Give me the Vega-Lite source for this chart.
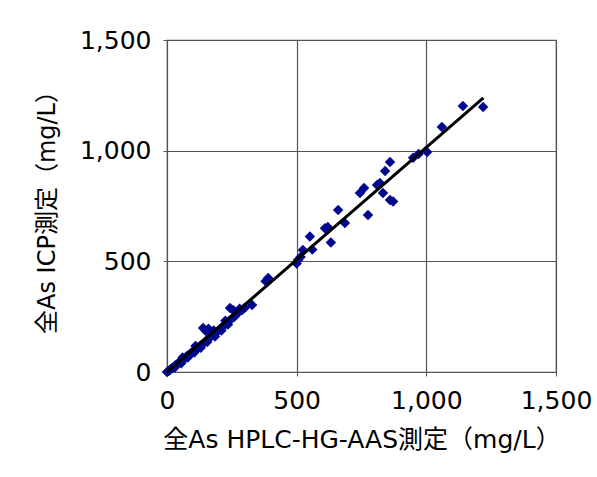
{
  "$schema": "https://vega.github.io/schema/vega-lite/v6.json",
  "width": 389,
  "height": 332,
  "autosize": "none",
  "padding": {"left": 167, "top": 40, "right": 41, "bottom": 105},
  "background": "white",
  "config": {
    "view": {"stroke": "#555555", "strokeWidth": 1.2},
    "font": "DejaVu Sans, Noto Sans CJK JP",
    "axis": {
      "gridColor": "#555555",
      "gridOpacity": 1,
      "gridWidth": 1.2,
      "domain": false,
      "tickColor": "#555555",
      "tickSize": 4,
      "labelFlush": false,
      "labelOverlap": false,
      "labelFont": "DejaVu Sans",
      "labelFontSize": 25,
      "labelColor": "#000000",
      "titleFont": "DejaVu Sans, Noto Sans CJK JP",
      "titleFontWeight": "normal",
      "titleColor": "#000000"
    }
  },
  "datasets": {
    "pts": [
      {"hplc": 0, "icp": 0}, {"hplc": 5, "icp": 4}, {"hplc": 10, "icp": 8}, {"hplc": 15, "icp": 14},
      {"hplc": 20, "icp": 18}, {"hplc": 25, "icp": 22}, {"hplc": 30, "icp": 27}, {"hplc": 35, "icp": 33},
      {"hplc": 40, "icp": 36}, {"hplc": 45, "icp": 42}, {"hplc": 50, "icp": 46}, {"hplc": 55, "icp": 50},
      {"hplc": 60, "icp": 55}, {"hplc": 65, "icp": 60}, {"hplc": 70, "icp": 63}, {"hplc": 75, "icp": 70},
      {"hplc": 80, "icp": 74}, {"hplc": 85, "icp": 78}, {"hplc": 90, "icp": 82}, {"hplc": 95, "icp": 88},
      {"hplc": 100, "icp": 92}, {"hplc": 105, "icp": 97}, {"hplc": 110, "icp": 100}, {"hplc": 115, "icp": 106},
      {"hplc": 120, "icp": 112}, {"hplc": 125, "icp": 115}, {"hplc": 130, "icp": 120}, {"hplc": 140, "icp": 130},
      {"hplc": 150, "icp": 140}, {"hplc": 160, "icp": 150}, {"hplc": 170, "icp": 160}, {"hplc": 180, "icp": 168},
      {"hplc": 190, "icp": 180}, {"hplc": 200, "icp": 190}, {"hplc": 210, "icp": 200}, {"hplc": 220, "icp": 210},
      {"hplc": 230, "icp": 222}, {"hplc": 240, "icp": 232}, {"hplc": 250, "icp": 242}, {"hplc": 260, "icp": 250},
      {"hplc": 270, "icp": 262}, {"hplc": 290, "icp": 280}, {"hplc": 300, "icp": 290},
      {"hplc": 30, "icp": 20}, {"hplc": 55, "icp": 40}, {"hplc": 80, "icp": 65}, {"hplc": 105, "icp": 88},
      {"hplc": 130, "icp": 110}, {"hplc": 155, "icp": 135}, {"hplc": 185, "icp": 160}, {"hplc": 210, "icp": 188},
      {"hplc": 235, "icp": 215}, {"hplc": 60, "icp": 66}, {"hplc": 110, "icp": 118}, {"hplc": 180, "icp": 188},
      {"hplc": 225, "icp": 232}, {"hplc": 280, "icp": 286},
      {"hplc": 139, "icp": 199}, {"hplc": 160, "icp": 195}, {"hplc": 150, "icp": 185},
      {"hplc": 243, "icp": 289}, {"hplc": 255, "icp": 280}, {"hplc": 274, "icp": 271},
      {"hplc": 328, "icp": 303}, {"hplc": 386, "icp": 407}, {"hplc": 390, "icp": 425}, {"hplc": 380, "icp": 410},
      {"hplc": 500, "icp": 490}, {"hplc": 505, "icp": 506}, {"hplc": 515, "icp": 520}, {"hplc": 524, "icp": 551},
      {"hplc": 551, "icp": 612}, {"hplc": 560, "icp": 553}, {"hplc": 609, "icp": 650}, {"hplc": 620, "icp": 655},
      {"hplc": 632, "icp": 585}, {"hplc": 660, "icp": 732}, {"hplc": 686, "icp": 673}, {"hplc": 744, "icp": 809},
      {"hplc": 760, "icp": 831}, {"hplc": 775, "icp": 709}, {"hplc": 810, "icp": 845}, {"hplc": 821, "icp": 854},
      {"hplc": 833, "icp": 809}, {"hplc": 841, "icp": 908}, {"hplc": 860, "icp": 949}, {"hplc": 860, "icp": 777},
      {"hplc": 872, "icp": 770}, {"hplc": 949, "icp": 968}, {"hplc": 970, "icp": 985}, {"hplc": 1003, "icp": 994},
      {"hplc": 1060, "icp": 1107}, {"hplc": 1141, "icp": 1202}, {"hplc": 1219, "icp": 1197}
    ],
    "fit": [
      {"hplc": 0, "icp": 0}, {"hplc": 1220, "icp": 1238}
    ]
  },
  "layer": [
    {
      "data": {"name": "pts"},
      "mark": {"type": "point", "shape": "diamond", "filled": true, "size": 110, "color": "#00088f", "opacity": 1},
      "encoding": {
        "x": {
          "field": "hplc", "type": "quantitative",
          "scale": {"domain": [0, 1500], "nice": false, "zero": true},
          "axis": {"values": [0, 500, 1000, 1500], "format": ",d", "title": "全As HPLC-HG-AAS測定（mg/L）", "titleFontSize": 25, "labelPadding": 12, "titlePadding": 14}
        },
        "y": {
          "field": "icp", "type": "quantitative",
          "scale": {"domain": [0, 1500], "nice": false, "zero": true},
          "axis": {"values": [0, 500, 1000, 1500], "format": ",d", "title": "全As ICP測定（mg/L）", "titleFontSize": 24, "labelPadding": 12, "titlePadding": 20}
        }
      }
    },
    {
      "data": {"name": "fit"},
      "mark": {"type": "line", "color": "#000000", "strokeWidth": 3},
      "encoding": {
        "x": {"field": "hplc", "type": "quantitative"},
        "y": {"field": "icp", "type": "quantitative"}
      }
    }
  ]
}
